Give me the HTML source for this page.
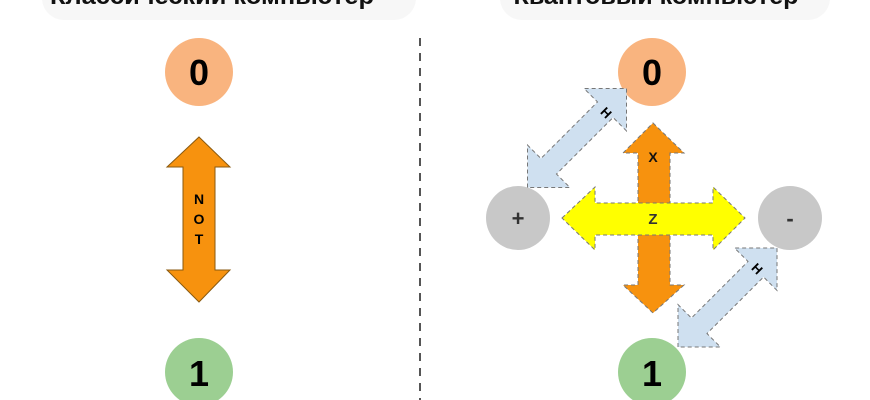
<!DOCTYPE html>
<html><head><meta charset="utf-8"><style>
html,body{margin:0;padding:0;background:#fff;overflow:hidden}
svg{display:block}
text{font-family:"Liberation Sans","DejaVu Sans",sans-serif;font-weight:bold}
</style></head><body>
<svg width="870" height="400" viewBox="0 0 870 400" xmlns="http://www.w3.org/2000/svg">
<rect x="42" y="-30" width="374" height="50" rx="22" fill="#f7f7f7"/>
<rect x="500" y="-30" width="330" height="50" rx="22" fill="#f7f7f7"/>
<text x="212" y="4" font-size="24" text-anchor="middle" fill="#111" textLength="324" lengthAdjust="spacingAndGlyphs">Классический компьютер</text>
<text x="656" y="4" font-size="24" text-anchor="middle" fill="#111" textLength="285" lengthAdjust="spacingAndGlyphs">Квантовый компьютер</text>
<line x1="420" y1="38" x2="420" y2="400" stroke="#555" stroke-width="2" stroke-dasharray="8,7"/>
<!-- left -->
<circle cx="199" cy="72" r="34" fill="#f9b47f"/>
<text x="199" y="85" font-size="36" text-anchor="middle">0</text>
<polygon points="199,137 230,167 215,167 215,270 230,270 199,302 167,270 183,270 183,167 167,167" fill="#f7920e" stroke="#8a5a10" stroke-width="1"/>
<text x="199" y="204" font-size="14" text-anchor="middle">N</text>
<text x="199" y="224" font-size="14" text-anchor="middle">O</text>
<text x="199" y="244" font-size="14" text-anchor="middle">T</text>
<circle cx="199" cy="372" r="34" fill="#9ccf92"/>
<text x="199" y="386" font-size="36" text-anchor="middle">1</text>
<!-- right -->
<circle cx="652" cy="72" r="34" fill="#f9b47f"/>
<text x="652" y="85" font-size="36" text-anchor="middle">0</text>
<circle cx="652" cy="372" r="34" fill="#9ccf92"/>
<text x="652" y="386" font-size="36" text-anchor="middle">1</text>
<circle cx="518" cy="218" r="32" fill="#c8c8c8"/>
<text x="518" y="226" font-size="22" text-anchor="middle" fill="#333">+</text>
<circle cx="790" cy="218" r="32" fill="#c8c8c8"/>
<text x="790" y="226" font-size="22" text-anchor="middle" fill="#333">-</text>
<g stroke="#777" stroke-width="1" stroke-dasharray="4,3">
<g transform="translate(577,138) rotate(-45)">
<polygon points="-70,0 -40,-30 -40,-11 40,-11 40,-30 70,0 40,30 40,11 -40,11 -40,30" fill="#cfe0f0"/>
</g>
<g transform="translate(727.5,297.5) rotate(-45)">
<polygon points="-70,0 -40,-30 -40,-11 40,-11 40,-30 70,0 40,30 40,11 -40,11 -40,30" fill="#cfe0f0"/>
</g>
<polygon points="653,123 684,153 670,153 670,285 684,285 653,313 623,285 638,285 638,153 623,153" fill="#f7920e"/>
<polygon points="562,218 595,187 595,203 713,203 713,187 745,218 713,250 713,235 595,235 595,250" fill="#ffff00"/>
</g>
<text x="653" y="162" font-size="14" text-anchor="middle" fill="#111">X</text>
<text x="653" y="224" font-size="15" text-anchor="middle" fill="#333" font-weight="normal">Z</text>
<text transform="translate(603,116) rotate(45)" font-size="13" text-anchor="middle">H</text>
<text transform="translate(754,272) rotate(45)" font-size="13" text-anchor="middle">H</text>
</svg>
</body></html>
